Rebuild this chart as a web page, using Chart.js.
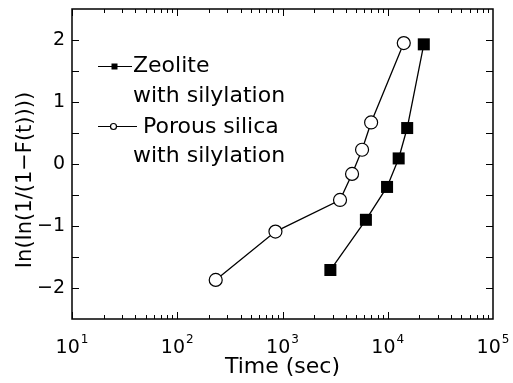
<!DOCTYPE html>
<html>
<head>
<meta charset="utf-8">
<script src="https://cdn.jsdelivr.net/npm/chart.js@4"></script>
<style>
  body { margin: 0; background: #fff; }
  #chart { display: block; }
</style>
</head>
<body>
<canvas id="chart" width="513" height="383"></canvas>
<script>
// values
const zeoliteTime = [2850, 6200, 9850, 12700, 15300, 22000];
const zeoliteY = [-1.71, -0.90, -0.37, 0.09, 0.58, 1.93];
const silicaTime = [232, 857, 3520, 4580, 5700, 6950, 14200];
const silicaY = [-1.87, -1.09, -0.58, -0.16, 0.23, 0.67, 1.95];
const decades = [1, 2, 3, 4, 5];

const fontFamily = "'DejaVu Sans', sans-serif";

function toPoints(xs, ys) {
    return xs.map((x, i) => ({ x: x, y: ys[i] }));
}

// frame, inward ticks, x labels, y title and legend
const decorations = {
    id: "decorations",
    afterDraw(chart) {
        const ctx = chart.ctx;
        const a = chart.chartArea;
        const xs = chart.scales.x;
        const ys = chart.scales.y;
        ctx.save();
        ctx.strokeStyle = "#000";
        ctx.fillStyle = "#000";
        ctx.lineWidth = 1.5;
        ctx.strokeRect(a.left, a.top, a.right - a.left, a.bottom - a.top);

        ctx.lineWidth = 1;
        ctx.beginPath();
        // x ticks, major and minor, top and bottom
        for (let e = 1; e < 5; e++) {
            for (let m = 1; m < 10; m++) {
                const px = Math.round(xs.getPixelForValue(m * Math.pow(10, e))) + 0.5;
                const len = m === 1 ? 7 : 4;
                ctx.moveTo(px, a.bottom);
                ctx.lineTo(px, a.bottom - len);
                ctx.moveTo(px, a.top);
                ctx.lineTo(px, a.top + len);
            }
        }
        // y ticks every 0.5, left and right
        for (let v = -2; v <= 2; v += 0.5) {
            const py = Math.round(ys.getPixelForValue(v)) + 0.5;
            ctx.moveTo(a.left, py);
            ctx.lineTo(a.left + 7, py);
            ctx.moveTo(a.right, py);
            ctx.lineTo(a.right - 7, py);
        }
        ctx.stroke();

        // x tick labels 10^n
        ctx.textBaseline = "alphabetic";
        ctx.textAlign = "left";
        decades.forEach(e => {
            const px = xs.getPixelForValue(Math.pow(10, e));
            ctx.font = "19px " + fontFamily;
            const wBase = ctx.measureText("10").width;
            ctx.font = "12px " + fontFamily;
            const wExp = ctx.measureText(String(e)).width;
            const start = px - (wBase + wExp + 1) / 2;
            ctx.font = "19px " + fontFamily;
            ctx.fillText("10", start, 353);
            ctx.font = "12px " + fontFamily;
            ctx.fillText(String(e), start + wBase + 1, 343);
        });

        // y axis title
        ctx.save();
        ctx.translate(26, 180);
        ctx.rotate(-Math.PI / 2);
        ctx.font = "21px " + fontFamily;
        ctx.textAlign = "center";
        ctx.textBaseline = "middle";
        ctx.fillText("In(In(1/(1\u2212F(t))))", 0, 0);
        ctx.restore();

        // legend
        ctx.lineWidth = 1.2;
        ctx.beginPath();
        ctx.moveTo(98, 66.5);
        ctx.lineTo(132, 66.5);
        ctx.moveTo(98, 126.5);
        ctx.lineTo(137, 126.5);
        ctx.stroke();
        ctx.fillRect(111.5, 63.5, 6, 6);
        ctx.beginPath();
        ctx.arc(113.5, 126.5, 3, 0, Math.PI * 2);
        ctx.fillStyle = "#fff";
        ctx.fill();
        ctx.stroke();
        ctx.fillStyle = "#000";
        ctx.font = "22px " + fontFamily;
        ctx.textAlign = "left";
        ctx.textBaseline = "middle";
        ctx.fillText("Zeolite", 133, 66);
        ctx.fillText("with silylation", 133, 96);
        ctx.fillText("Porous silica", 143, 127);
        ctx.fillText("with silylation", 133, 156);
        ctx.restore();
    }
};

new Chart(document.getElementById("chart"), {
    type: "line",
    data: {
        datasets: [
            {
                label: "Zeolite with silylation",
                data: toPoints(zeoliteTime, zeoliteY),
                borderColor: "#000",
                borderWidth: 1.3,
                backgroundColor: "#000",
                pointStyle: "rect",
                pointRadius: 8.5,
                pointBorderWidth: 0,
                tension: 0
            },
            {
                label: "Porous silica with silylation",
                data: toPoints(silicaTime, silicaY),
                borderColor: "#000",
                borderWidth: 1.3,
                backgroundColor: "#fff",
                pointStyle: "circle",
                pointRadius: 6.5,
                pointBorderWidth: 1.2,
                tension: 0
            }
        ]
    },
    options: {
        responsive: false,
        devicePixelRatio: 1,
        animation: false,
        layout: { padding: { top: 9, right: 20, left: 0, bottom: 0 } },
        plugins: {
            legend: { display: false },
            tooltip: { enabled: false }
        },
        scales: {
            x: {
                type: "logarithmic",
                min: 10,
                max: 100000,
                grid: { display: false, drawTicks: false },
                border: { display: false },
                ticks: { display: false },
                afterFit: function (scale) {
                    scale.height = 64;
                    scale.paddingLeft = 0;
                    scale.paddingRight = 0;
                },
                title: {
                    display: true,
                    text: "Time (sec)",
                    color: "#000",
                    font: { family: fontFamily, size: 22 },
                    padding: { top: 0, bottom: 3 }
                }
            },
            y: {
                type: "linear",
                min: -2.5,
                max: 2.5,
                grid: { display: false, drawTicks: false },
                border: { display: false },
                afterFit: function (scale) {
                    scale.width = 72;
                    scale.paddingTop = 0;
                    scale.paddingBottom = 0;
                },
                ticks: {
                    stepSize: 0.5,
                    color: "#000",
                    padding: 7,
                    font: { family: fontFamily, size: 19 },
                    callback: function (v) {
                        if (Math.abs(v - Math.round(v)) > 1e-6) return "";
                        return String(Math.round(v)).replace("-", "\u2212");
                    }
                }
            }
        }
    },
    plugins: [decorations]
});
</script>
</body>
</html>
